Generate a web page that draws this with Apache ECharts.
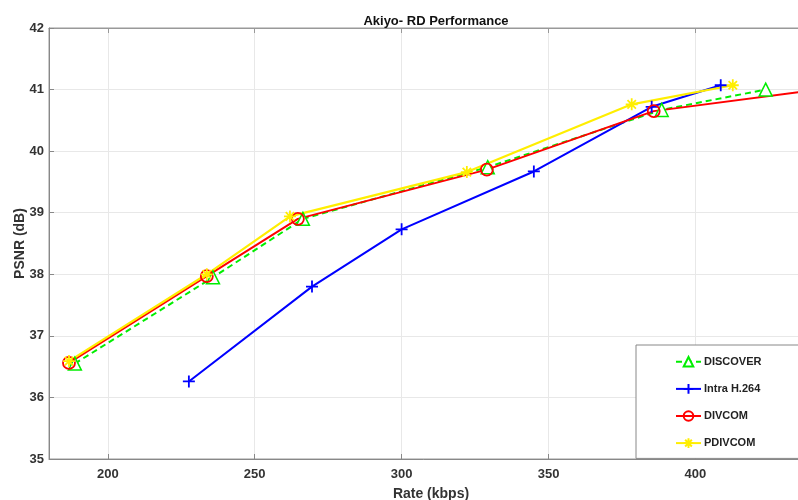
<!DOCTYPE html>
<html style="height: 100%">
<head>
    <meta charset="utf-8">
    <script type="text/javascript" src="https://cdn.jsdelivr.net/npm/echarts@6/dist/echarts.min.js"></script>
</head>
<body style="height: 100%; margin: 0; background: #fff">
    <div id="container" style="width: 798px; height: 500px"></div>
    <script type="text/javascript">
        var xTicks = [200, 250, 300, 350, 400];
        var yTicks = [35, 36, 37, 38, 39, 40, 41, 42];
        // rate (kbps), PSNR (dB)
        var discover = [[188.8, 36.55], [235.8, 37.95], [266.4, 38.9], [329.3, 39.74], [388.5, 40.67], [423.9, 41.0]];
        var intra = [[227.6, 36.26], [269.5, 37.8], [300.0, 38.73], [345.0, 39.67], [385.1, 40.72], [408.6, 41.07]];
        var divcom = [[186.8, 36.56], [233.7, 37.97], [264.7, 38.9], [329.0, 39.7], [385.8, 40.65], [440.0, 40.99]];
        var pdivcom = [[186.8, 36.59], [233.7, 38.0], [262.0, 38.94], [322.2, 39.66], [378.3, 40.76], [412.7, 41.07]];

        var starPath = 'path://M5,0L5,10M0,5L10,5M1.5,1.5L8.5,8.5M8.5,1.5L1.5,8.5';
        var plusPath = 'path://M5,0L5,10M0,5L10,5';

        var chart = echarts.init(document.getElementById('container'), null, { renderer: 'canvas' });
        var labelStyle = { fontFamily: 'Liberation Sans', fontWeight: 'bold', fontSize: 13, color: '#333' };
        var nameStyle = { fontFamily: 'Liberation Sans', fontWeight: 'bold', fontSize: 14, color: '#333' };

        var option = {
            animation: false,
            backgroundColor: '#fff',
            title: {
                text: 'Akiyo- RD Performance',
                left: 431,
                top: 10,
                textAlign: 'center',
                textStyle: { fontFamily: 'Liberation Sans', fontWeight: 'bold', fontSize: 13, color: '#111' }
            },
            legend: {
                orient: 'vertical',
                left: 636,
                top: 345,
                padding: [11, 45, 8, 39],
                itemWidth: 25,
                itemHeight: 12,
                itemGap: 14,
                backgroundColor: '#fff',
                borderColor: '#888',
                borderWidth: 1,
                borderRadius: 0,
                textStyle: { fontFamily: 'Liberation Sans', fontWeight: 'bold', fontSize: 11, color: '#222', padding: [0, 0, 0, -2] },
                data: ['DISCOVER', 'Intra H.264', 'DIVCOM', 'PDIVCOM']
            },
            grid: {
                left: 49,
                top: 28,
                width: 764,
                height: 431,
                outerBoundsMode: 'none',
                containLabel: false,
                show: true,
                borderColor: '#999',
                borderWidth: 1
            },
            xAxis: [{
                type: 'value',
                min: 180,
                max: 440,
                name: 'Rate (kbps)',
                nameLocation: 'middle',
                nameGap: 28,
                nameMoveOverlap: false,
                nameTextStyle: Object.assign({ verticalAlign: 'top' }, nameStyle),
                axisLine: { lineStyle: { color: '#888' } },
                axisTick: { inside: true, length: 5, lineStyle: { color: '#888' }, customValues: xTicks },
                axisLabel: Object.assign({ margin: 9, customValues: xTicks }, labelStyle),
                splitLine: { show: true, lineStyle: { color: '#e8e8e8' } }
            }, {
                type: 'value',
                position: 'top',
                min: 180,
                max: 440,
                axisLine: { show: true, lineStyle: { color: '#999' } },
                axisTick: { inside: true, length: 5, lineStyle: { color: '#999' }, customValues: xTicks },
                axisLabel: { show: false },
                splitLine: { show: false }
            }],
            yAxis: {
                type: 'value',
                min: 35,
                max: 42,
                interval: 1,
                name: 'PSNR (dB)',
                nameLocation: 'middle',
                nameGap: 22,
                nameMoveOverlap: false,
                nameTextStyle: nameStyle,
                axisLine: { show: true, lineStyle: { color: '#888' } },
                axisTick: { show: true, inside: true, length: 5, lineStyle: { color: '#888' } },
                axisLabel: Object.assign({ margin: 5 }, labelStyle),
                splitLine: { show: true, lineStyle: { color: '#e8e8e8' } }
            },
            series: [
                {
                    name: 'DISCOVER',
                    type: 'line',
                    data: discover,
                    symbol: 'triangle',
                    symbolSize: 13,
                    lineStyle: { color: '#00ee00', width: 2, type: [6, 4] },
                    itemStyle: { color: '#fff', borderColor: '#00ee00', borderWidth: 1.5 }
                },
                {
                    name: 'Intra H.264',
                    type: 'line',
                    data: intra,
                    symbol: plusPath,
                    symbolSize: 12,
                    lineStyle: { color: '#0000ff', width: 2 },
                    itemStyle: { color: 'none', borderColor: '#0000ff', borderWidth: 1.8 }
                },
                {
                    name: 'DIVCOM',
                    type: 'line',
                    data: divcom,
                    symbol: 'circle',
                    symbolSize: 12,
                    lineStyle: { color: '#ff0000', width: 2 },
                    itemStyle: { color: 'rgba(255,255,255,0)', borderColor: '#ff0000', borderWidth: 1.8 }
                },
                {
                    name: 'PDIVCOM',
                    type: 'line',
                    data: pdivcom,
                    symbol: starPath,
                    symbolSize: 12,
                    lineStyle: { color: '#ffee00', width: 2.2 },
                    itemStyle: { color: 'none', borderColor: '#ffee00', borderWidth: 1.8 }
                }
            ]
        };
        chart.setOption(option);
    </script>
</body>
</html>
